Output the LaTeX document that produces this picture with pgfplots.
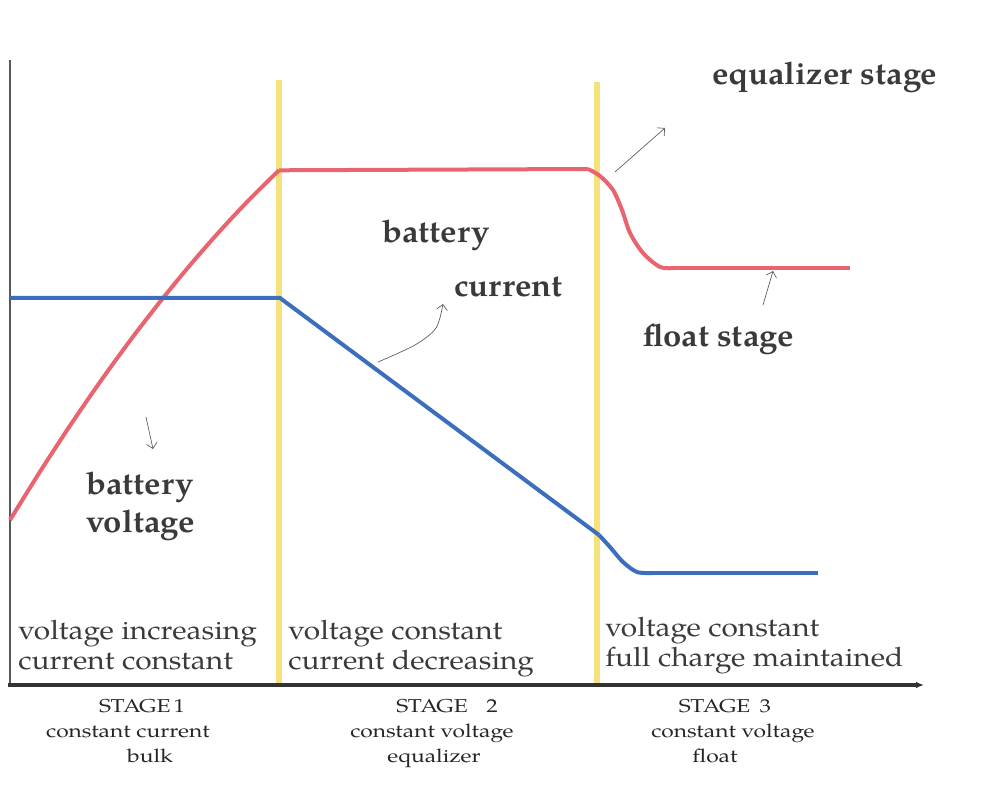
\documentclass[border=0pt]{standalone}
\usepackage{pgfplots}
\pgfplotsset{compat=1.18}
\usetikzlibrary{arrows.meta}
\usepackage{fontspec}
\setmainfont{TeX Gyre Pagella}
\newfontfamily\bigfont[FakeStretch=1.05]{TeX Gyre Pagella}
\newfontfamily\midfont[FakeStretch=1.12]{TeX Gyre Pagella}
\newfontfamily\smallfont[FakeStretch=1.22]{TeX Gyre Pagella}
\definecolor{vred}{HTML}{E8646E}
\definecolor{cblue}{HTML}{3B6FBE}
\definecolor{stageyel}{HTML}{F6E27C}
\definecolor{txt}{HTML}{3A3A3A}
\tikzset{
  big/.style={font=\bigfont\fontsize{23.5}{26}\selectfont\bfseries, text=txt, inner sep=0pt},
  mid/.style={font=\midfont\fontsize{20}{23}\selectfont, text=txt, inner sep=0pt},
  small/.style={font=\smallfont\fontsize{14}{16}\selectfont, text=black!85, inner sep=0pt},
}
\begin{document}
\begin{tikzpicture}
\begin{axis}[
  scale only axis, width=739.5pt, height=590.25pt,
  xmin=0, xmax=986, ymin=0, ymax=787, y dir=reverse,
  hide axis, clip=false,
]
% bounding box
\addplot[draw=none] coordinates {(0,0) (986,787)};
% stage separators
\addplot[stageyel, line width=4.5pt] coordinates {(279,80) (279,685)};
\addplot[stageyel, line width=4.5pt] coordinates {(597,82) (597,685)};
% axes
\addplot[gray!70!black, line width=1.1pt] coordinates {(10,60) (10,686)};
\addplot[black!80, line width=3pt, -{Latex[length=6pt,width=5pt]}] coordinates {(8,685) (924,685)};
% battery voltage
\addplot[vred, line width=3pt, smooth] coordinates {
 (10,520) (40,471.7) (70,425.7) (100,382) (130,340.7) (160,301.8) (190,265.2) (220,230.9) (250,198.9) (279,170.3)};
\addplot[vred, line width=3pt] coordinates {(279,170.3) (588,169)};
\addplot[vred, line width=3pt, smooth, tension=0.5] coordinates {
 (588,169) (600,176) (613,190) (622,210) (630,233) (643,253) (660,267) (675,268)};
\addplot[vred, line width=3pt] coordinates {(675,268) (850,268)};
% battery current
\addplot[cblue, line width=3pt] coordinates {(10,298) (280,298) (599,535)};
\addplot[cblue, line width=3pt, smooth, tension=0.5] coordinates {
 (599,535) (610,547) (623,562) (637,572) (653,573)};
\addplot[cblue, line width=3pt] coordinates {(653,573) (818,573)};
% arrows
\addplot[gray!70!black, line width=0.5pt, -{Straight Barb[length=4pt]}] coordinates {(146,417) (153,449)};
\addplot[gray!70!black, line width=0.5pt, smooth, -{Straight Barb[length=4pt]}] coordinates {(378,362) (415,345) (436,328) (443,304)};
\addplot[gray!70!black, line width=0.5pt, -{Straight Barb[length=4pt]}] coordinates {(615,172) (665,128)};
\addplot[gray!70!black, line width=0.5pt, -{Straight Barb[length=4pt]}] coordinates {(763,305) (773,271)};
% labels
\node[big, anchor=base west] at (axis cs:712,85) {equalizer stage};
\node[big, anchor=base west] at (axis cs:382,243) {battery};
\node[big, anchor=base west] at (axis cs:454,297) {current};
\node[big, anchor=base west] at (axis cs:643,347) {float stage};
\node[big, anchor=base west] at (axis cs:86,495) {battery};
\node[big, anchor=base west] at (axis cs:86,533) {voltage};
\node[mid, anchor=base west] at (axis cs:18,640) {voltage increasing};
\node[mid, anchor=base west] at (axis cs:18,670) {current constant};
\node[mid, anchor=base west] at (axis cs:288,640) {voltage constant};
\node[mid, anchor=base west] at (axis cs:288,670) {current decreasing};
\node[mid, anchor=base west] at (axis cs:605,637) {voltage constant};
\node[mid, anchor=base west] at (axis cs:605,667) {full charge maintained};
\node[small, anchor=base] at (axis cs:142,712) {STAGE\,1};
\node[small, anchor=base] at (axis cs:128,737) {constant current};
\node[small, anchor=base] at (axis cs:150,763) {bulk};
\node[small, anchor=base] at (axis cs:447,712) {STAGE\quad 2};
\node[small, anchor=base] at (axis cs:432,737) {constant voltage};
\node[small, anchor=base] at (axis cs:434,763) {equalizer};
\node[small, anchor=base] at (axis cs:725,712) {STAGE\enspace 3};
\node[small, anchor=base] at (axis cs:733,737) {constant voltage};
\node[small, anchor=base] at (axis cs:715,763) {float};
\end{axis}
\end{tikzpicture}
\end{document}
